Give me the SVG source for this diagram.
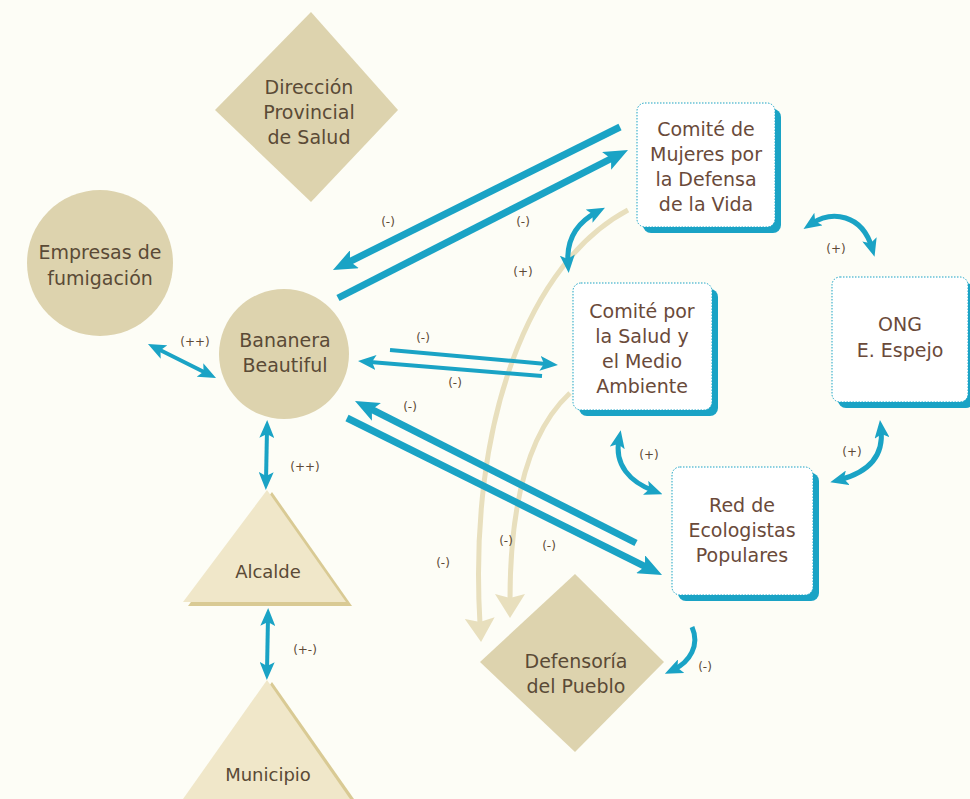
<svg xmlns="http://www.w3.org/2000/svg" width="970" height="799" viewBox="0 0 970 799">
<style>
.bg{fill:#fdfdf6}
.blob{fill:#ddd3ae}
.tri{fill:#f0e7c9}
.trish{fill:#d9ca94}
.box{fill:#ffffff;stroke:#1aa3c5;stroke-width:1;stroke-dasharray:1.5 1.5}
.sh{fill:#1aa3c5}
.t{font-family:"DejaVu Sans",sans-serif;font-size:19px;fill:#5a4a36;text-anchor:middle}
.tb{font-family:"DejaVu Sans",sans-serif;font-size:19px;fill:#6a4a3a;text-anchor:middle}
.lb{font-family:"DejaVu Sans",sans-serif;font-size:12px;fill:#5e4a36;text-anchor:middle}
.c{fill:none;stroke:#1aa3c5;stroke-linecap:butt}
.w7{stroke-width:7}
.w4{stroke-width:4}
.w5{stroke-width:5}
.bc{fill:none;stroke:#e8dfbd;stroke-width:5}
</style>
<defs>
<marker id="ah" viewBox="0 0 24 20" refX="12" refY="10" markerWidth="24" markerHeight="20" markerUnits="userSpaceOnUse" orient="auto-start-reverse">
<path d="M0,0 L24,10 L0,20 L5,10 z" fill="#1aa3c5"/>
</marker>
<marker id="ahs" viewBox="0 0 18 15" refX="9" refY="7.5" markerWidth="18" markerHeight="15" markerUnits="userSpaceOnUse" orient="auto-start-reverse">
<path d="M0,0 L18,7.5 L0,15 L4,7.5 z" fill="#1aa3c5"/>
</marker>
<marker id="ahb" viewBox="0 0 24 30" refX="6" refY="15" markerWidth="24" markerHeight="30" markerUnits="userSpaceOnUse" orient="auto">
<path d="M0,0 L24,15 L0,30 L4,15 z" fill="#e8dfbd"/>
</marker>
</defs>
<rect class="bg" x="0" y="0" width="970" height="799"/>

<g id="connectors">
<path class="bc" d="M628,210 C530,262 468,420 480,624" marker-end="url(#ahb)"/>
<path class="bc" d="M570,393 C530,430 510,500 510,600" marker-end="url(#ahb)"/>
<line class="c w7" x1="620" y1="127" x2="343.7" y2="264.6" marker-end="url(#ah)"/>
<line class="c w7" x1="338" y1="298" x2="617.3" y2="155.5" marker-end="url(#ah)"/>
<line class="c w4" x1="390" y1="350" x2="549" y2="364.2" marker-end="url(#ahs)"/>
<line class="c w4" x1="542" y1="376" x2="367" y2="361.7" marker-end="url(#ahs)"/>
<line class="c w7" x1="636" y1="543" x2="365.7" y2="406.4" marker-end="url(#ah)"/>
<line class="c w7" x1="347" y1="418" x2="651.3" y2="569.6" marker-end="url(#ah)"/>
<line class="c w4" x1="156" y1="348" x2="208" y2="374" marker-start="url(#ahs)" marker-end="url(#ahs)"/>
<line class="c w4" x1="267" y1="429" x2="266" y2="481" marker-start="url(#ahs)" marker-end="url(#ahs)"/>
<line class="c w4" x1="268" y1="617" x2="267" y2="671" marker-start="url(#ahs)" marker-end="url(#ahs)"/>
<path class="c w5" d="M597,212 C578,222 566,238 568,264" marker-start="url(#ahs)" marker-end="url(#ahs)"/>
<path class="c w5" d="M811,224 C832,210 862,214 872,248" marker-start="url(#ahs)" marker-end="url(#ahs)"/>
<path class="c w5" d="M881,429 C884,455 870,472 839,480" marker-start="url(#ahs)" marker-end="url(#ahs)"/>
<path class="c w5" d="M619,439 C614,465 630,482 654,491" marker-start="url(#ahs)" marker-end="url(#ahs)"/>
<path class="c w5" d="M692,627 C700,645 690,662 673,670" marker-end="url(#ahs)"/>
</g>

<g id="labels">
<text class="lb" x="388" y="226">(-)</text>
<text class="lb" x="523" y="226">(-)</text>
<text class="lb" x="523" y="276">(+)</text>
<text class="lb" x="195" y="346">(++)</text>
<text class="lb" x="423" y="342">(-)</text>
<text class="lb" x="455" y="387">(-)</text>
<text class="lb" x="410" y="411">(-)</text>
<text class="lb" x="305" y="471">(++)</text>
<text class="lb" x="305" y="654">(+-)</text>
<text class="lb" x="836" y="253">(+)</text>
<text class="lb" x="649" y="459">(+)</text>
<text class="lb" x="852" y="456">(+)</text>
<text class="lb" x="443" y="567">(-)</text>
<text class="lb" x="506" y="545">(-)</text>
<text class="lb" x="549" y="550">(-)</text>
<text class="lb" x="705" y="671">(-)</text>
</g>

<g id="direccion">
<polygon class="blob" points="311,12 398,110 311,202 215,110"/>
<text class="t" x="309" y="94">Dirección</text>
<text class="t" x="309" y="119">Provincial</text>
<text class="t" x="309" y="144">de Salud</text>
</g>

<g id="empresas">
<circle class="blob" cx="100" cy="263" r="73"/>
<text class="t" x="100" y="259">Empresas de</text>
<text class="t" x="100" y="285">fumigación</text>
</g>

<g id="bananera">
<circle class="blob" cx="284" cy="354" r="65"/>
<text class="t" x="285" y="347">Bananera</text>
<text class="t" x="285" y="372">Beautiful</text>
</g>

<g id="alcalde">
<polygon class="trish" points="272,492 352,606 188,606"/>
<polygon class="tri" points="267,490 346,602 183,602"/>
<text class="t" x="268" y="578" style="font-size:18px">Alcalde</text>
</g>

<g id="municipio">
<polygon class="trish" points="272,682 354,799 188,799"/>
<polygon class="tri" points="267,680 350,799 183,799"/>
<text class="t" x="268" y="781" style="font-size:18px">Municipio</text>
</g>

<g id="mujeres">
<rect class="sh" x="643" y="109" width="138" height="124" rx="8"/>
<rect class="box" x="637" y="103" width="138" height="124" rx="8"/>
<text class="tb" x="706" y="136">Comité de</text>
<text class="tb" x="706" y="161">Mujeres por</text>
<text class="tb" x="706" y="186">la Defensa</text>
<text class="tb" x="706" y="211">de la Vida</text>
</g>

<g id="salud">
<rect class="sh" x="579" y="289" width="139" height="127" rx="8"/>
<rect class="box" x="573" y="283" width="139" height="127" rx="8"/>
<text class="tb" x="642" y="318">Comité por</text>
<text class="tb" x="642" y="343">la Salud y</text>
<text class="tb" x="642" y="368">el Medio</text>
<text class="tb" x="642" y="393">Ambiente</text>
</g>

<g id="ong">
<rect class="sh" x="838" y="283" width="136" height="125" rx="8"/>
<rect class="box" x="832" y="277" width="136" height="125" rx="8"/>
<text class="tb" x="900" y="331">ONG</text>
<text class="tb" x="900" y="357">E. Espejo</text>
</g>

<g id="red">
<rect class="sh" x="678" y="473" width="141" height="128" rx="8"/>
<rect class="box" x="672" y="467" width="141" height="128" rx="8"/>
<text class="tb" x="742" y="512">Red de</text>
<text class="tb" x="742" y="537">Ecologistas</text>
<text class="tb" x="742" y="562">Populares</text>
</g>

<g id="defensoria">
<polygon class="blob" points="575,574 664,662 575,752 480,662"/>
<text class="t" x="576" y="668">Defensoría</text>
<text class="t" x="576" y="693">del Pueblo</text>
</g>
</svg>
